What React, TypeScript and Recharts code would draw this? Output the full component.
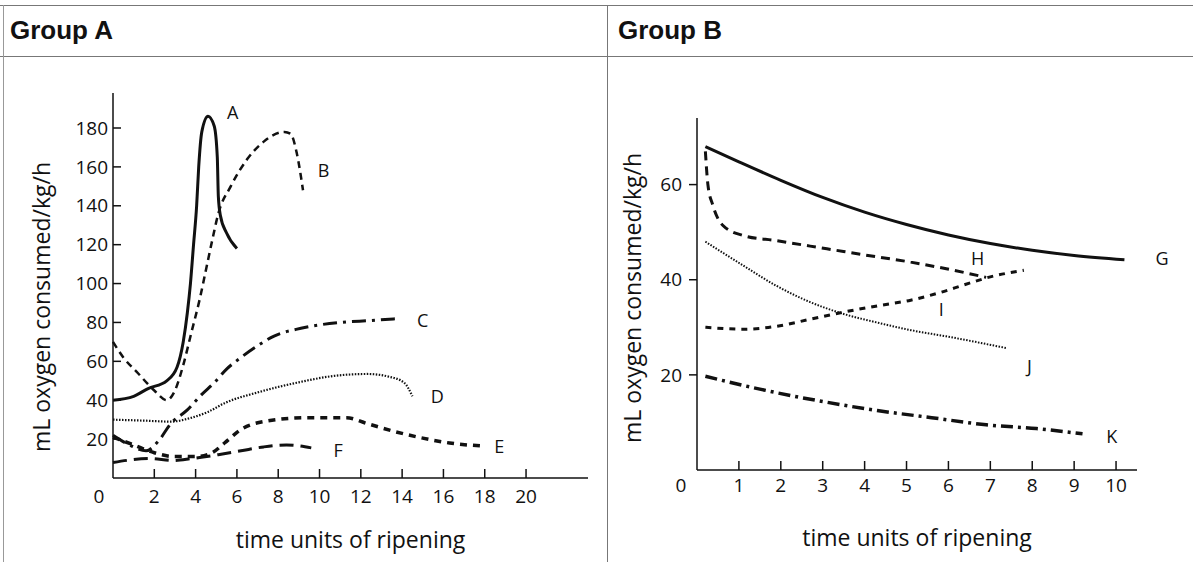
import React from "react";
import { LineChart, Line, XAxis, YAxis, ReferenceDot } from "recharts";

// Group A curves: [time, mL O2/kg/h]
const curveA = [[0, 40], [1, 42], [1.7, 46], [2.6, 50], [3.1, 57], [3.4, 70], [3.6, 85], [3.75, 100], [3.9, 120], [4.05, 140], [4.15, 160], [4.3, 178], [4.6, 186], [4.9, 181], [5.05, 165], [5.1, 145], [5.2, 135], [5.5, 126], [6.0, 118]];
const curveB = [[0, 70], [0.5, 62], [1.2, 54], [2, 45], [2.6, 40], [3.0, 45], [3.4, 58], [3.8, 75], [4.2, 92], [4.5, 107], [4.8, 122], [5.1, 136], [5.7, 150], [6.5, 164], [7.3, 173], [8.3, 178], [8.6, 177], [8.9, 167], [9.2, 148]];
const curveC = [[0, 22], [0.8, 17], [1.6, 14], [2.2, 19], [2.8, 28], [3.6, 35], [4.3, 43], [4.9, 49], [5.5, 56], [6.2, 62], [7, 68], [7.8, 73], [9.1, 77], [11, 80], [12.5, 81], [13.8, 82]];
const curveD = [[0, 30], [1.5, 29.5], [2.8, 29], [3.8, 31], [4.6, 34], [5.4, 38.5], [7, 44], [8.9, 49], [10.7, 52.5], [12.3, 53.5], [13.4, 52], [14.1, 49], [14.5, 42]];
const curveE = [[0, 21], [1, 17], [2, 13], [3, 11], [4, 11], [4.8, 13], [5.4, 18], [6.2, 25], [7.3, 29], [9.4, 31], [11.3, 31], [12.3, 28], [13.6, 24], [15, 20.5], [16.3, 18], [17.8, 16.5]];
const curveF = [[0, 8], [1.8, 10], [2.9, 9], [3.8, 10], [5.1, 12], [6.2, 14], [7.3, 16], [8.4, 17], [9.6, 15.5]];

// Group B curves
const curveG = [[0.2, 68], [1, 64.8], [2, 60.9], [3, 57.3], [4, 54.2], [5, 51.6], [6, 49.4], [7, 47.6], [8, 46.2], [9, 45.1], [10.2, 44.2]];
const curveH = [[0.2, 67], [0.26, 60], [0.38, 55.6], [0.62, 51.4], [1.1, 49.3], [1.9, 48.2], [3.1, 46.5], [4.3, 44.8], [5.1, 43.7], [5.95, 42.3], [6.9, 40.5]];
const curveI = [[0.2, 30], [1.1, 29.6], [1.9, 30.2], [2.7, 31.7], [3.5, 33.2], [4.3, 34.5], [5.1, 35.7], [5.8, 37.3], [6.4, 39], [7, 40.6], [7.8, 42]];
const curveJ = [[0.2, 48], [1.1, 43], [1.9, 38.7], [2.7, 35.3], [3.5, 32.8], [4.3, 31], [5.1, 29.4], [5.95, 28.1], [7.4, 25.6]];
const curveK = [[0.2, 19.7], [1.5, 17], [2.5, 15.2], [3, 14.4], [4.3, 12.5], [5.6, 11], [6.9, 9.5], [8.1, 8.7], [9.2, 7.6]];

const ticksAX = [0, 2, 4, 6, 8, 10, 12, 14, 16, 18, 20];
const ticksAY = [20, 40, 60, 80, 100, 120, 140, 160, 180];
const ticksBX = [0, 1, 2, 3, 4, 5, 6, 7, 8, 9, 10];
const ticksBY = [20, 40, 60];

// curve letters placed at [x, y] in data units
const labelsA = [["A", 5.8, 188], ["B", 10.2, 158], ["C", 15.0, 81], ["D", 15.7, 42], ["E", 18.7, 16], ["F", 10.9, 14]];
const labelsB = [["G", 11.1, 44.4], ["H", 6.7, 44.4], ["I", 5.83, 33.8], ["J", 7.93, 21.8], ["K", 9.9, 7.0]];

const pts = (arr: number[][]) => arr.map(([x, y]) => ({ x, y }));

const INK = "#111";
const FONT = '"Open Sans", sans-serif';

const XTick = (props: any) => {
  const { x, y, payload, gap, zeroDx } = props;
  const v = payload.value;
  const axisY = y - gap;
  return (
    <g>
      {v !== 0 && <line x1={x} x2={x} y1={axisY} y2={axisY - 9} stroke={INK} strokeWidth={1.5} />}
      <text x={v === 0 ? x + zeroDx : x} y={y} dy="0.71em" textAnchor="middle" fontSize={19} fill={INK} fontFamily={FONT}>
        {v}
      </text>
    </g>
  );
};

const YTickInside = (props: any) => {
  const { x, y, payload } = props;
  return (
    <g>
      <line x1={x + 5} x2={x + 13} y1={y} y2={y} stroke={INK} strokeWidth={1.5} />
      <text x={x} y={y} dy="0.35em" textAnchor="end" fontSize={19} fill={INK} fontFamily={FONT}>
        {payload.value}
      </text>
    </g>
  );
};

const YTitle = ({ cx, cy }: { cx: number; cy: number }) => (
  <text transform={`translate(${cx},${cy}) rotate(-90)`} textAnchor="middle" dy="0.35em" fontSize={23} fill={INK} fontFamily={FONT}>
    mL oxygen consumed/kg/h
  </text>
);

const lineProps = { type: "monotone" as const, dataKey: "y", stroke: INK, dot: false, activeDot: false, isAnimationActive: false };

const letter = (l: any[], i: number) => (
  <ReferenceDot key={i} x={l[1]} y={l[2]} r={1} fill="none" stroke="none" ifOverflow="visible"
    label={{ value: l[0], position: "center", fontSize: 18, fill: INK, fontFamily: FONT }} />
);

export default function App() {
  return (
    <div style={{ position: "absolute", left: 0, top: 0, width: 1193, height: 562, background: "#fff", overflow: "hidden" }}>
      <div style={{ position: "absolute", left: 0, top: 5, width: 1193, height: 1, background: "#777" }} />
      <div style={{ position: "absolute", left: 0, top: 56, width: 1193, height: 1, background: "#777" }} />
      <div style={{ position: "absolute", left: 3, top: 5, width: 1, height: 557, background: "#999" }} />
      <div style={{ position: "absolute", left: 607, top: 5, width: 1, height: 557, background: "#777" }} />
      <div style={{ position: "absolute", left: 10, top: 15, fontFamily: '"Liberation Sans", Arial, sans-serif', fontWeight: 700, fontSize: 26, color: INK }}>Group A</div>
      <div style={{ position: "absolute", left: 618, top: 15, fontFamily: '"Liberation Sans", Arial, sans-serif', fontWeight: 700, fontSize: 26, color: INK }}>Group B</div>

      <div style={{ position: "absolute", left: 0, top: 0 }}>
        <LineChart width={606} height={562} margin={{ top: 93, right: 18, bottom: 0, left: 0 }}>
          <XAxis dataKey="x" type="number" domain={[0, 23]} ticks={ticksAX} height={84}
            axisLine={{ stroke: INK, strokeWidth: 1.5 }} tickLine={false} tickSize={0} tickMargin={12}
            tick={(p: any) => <XTick {...p} gap={12} zeroDx={-14} />}
            label={{ value: "time units of ripening", position: "insideTop", offset: 54, fontSize: 23, fill: INK, fontFamily: FONT }} />
          <YAxis type="number" domain={[0, 198]} ticks={ticksAY} width={113}
            axisLine={{ stroke: INK, strokeWidth: 1.5 }} tickLine={false} tickSize={0} tickMargin={5}
            tick={(p: any) => <YTickInside {...p} />}
            label={{ content: () => <YTitle cx={42} cy={307} /> }} />
          <Line {...lineProps} data={pts(curveA)} strokeWidth={3} />
          <Line {...lineProps} data={pts(curveB)} strokeWidth={2.5} strokeDasharray="7 5" />
          <Line {...lineProps} data={pts(curveC)} strokeWidth={3} strokeDasharray="14 6 3 6" />
          <Line {...lineProps} data={pts(curveD)} strokeWidth={2.2} strokeDasharray="1.5 1.5" />
          <Line {...lineProps} data={pts(curveE)} strokeWidth={3.5} strokeDasharray="7 6" />
          <Line {...lineProps} data={pts(curveF)} strokeWidth={3} strokeDasharray="14 7" />
          {labelsA.map(letter)}
        </LineChart>
      </div>

      <div style={{ position: "absolute", left: 610, top: 0 }}>
        <LineChart width={583} height={562} margin={{ top: 118, right: 56, bottom: 0, left: 0 }}>
          <XAxis dataKey="x" type="number" domain={[0, 10.5]} ticks={ticksBX} height={92}
            axisLine={{ stroke: INK, strokeWidth: 1.5 }} tickLine={false} tickSize={0} tickMargin={9}
            tick={(p: any) => <XTick {...p} gap={9} zeroDx={-16} />}
            label={{ value: "time units of ripening", position: "insideTop", offset: 60, fontSize: 23, fill: INK, fontFamily: FONT }} />
          <YAxis type="number" domain={[0, 74]} ticks={ticksBY} width={87}
            axisLine={{ stroke: INK, strokeWidth: 1.5 }} tickLine={{ stroke: INK, strokeWidth: 1.5 }} tickSize={8} tickMargin={7}
            tick={{ fontSize: 19, fill: INK, fontFamily: FONT }}
            label={{ content: () => <YTitle cx={23} cy={298} /> }} />
          <Line {...lineProps} data={pts(curveG)} strokeWidth={3} />
          <Line {...lineProps} data={pts(curveH)} strokeWidth={3} strokeDasharray="9 6" />
          <Line {...lineProps} data={pts(curveI)} strokeWidth={3} strokeDasharray="6 6" />
          <Line {...lineProps} data={pts(curveJ)} strokeWidth={2} strokeDasharray="1.5 1.5" />
          <Line {...lineProps} data={pts(curveK)} strokeWidth={3.5} strokeDasharray="12 5 3 5" />
          {labelsB.map(letter)}
        </LineChart>
      </div>
    </div>
  );
}
